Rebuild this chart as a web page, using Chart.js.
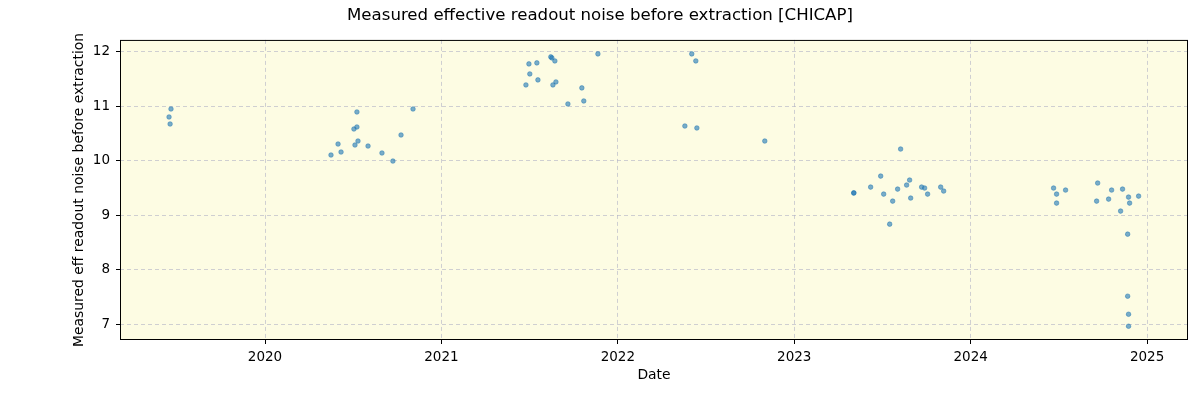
<!DOCTYPE html>
<html>
<head>
<meta charset="utf-8">
<script src="https://cdn.jsdelivr.net/npm/chart.js@4/dist/chart.umd.min.js"></script>
<style>
  html, body { margin: 0; padding: 0; background: #ffffff; }
  #wrap { width: 1200px; height: 400px; }
</style>
</head>
<body>
<div id="wrap"><canvas id="chart"></canvas></div>
<script>
// measurement dates as decimal years
const dates = [
  2019.467, 2019.456, 2019.462,
  2020.521, 2020.504, 2020.521, 2020.527, 2020.510, 2020.414, 2020.431, 2020.374,
  2020.584, 2020.663, 2020.725, 2020.771, 2020.839,
  2021.620, 2021.626, 2021.643, 2021.496, 2021.541, 2021.887, 2021.501, 2021.547,
  2021.479, 2021.632, 2021.649, 2021.796, 2021.807, 2021.717,
  2022.419, 2022.442, 2022.380, 2022.448, 2022.833,
  2023.337, 2023.338, 2023.603, 2023.490, 2023.433, 2023.507, 2023.558, 2023.541,
  2023.586, 2023.637, 2023.654, 2023.660, 2023.722, 2023.739, 2023.756, 2023.830, 2023.847,
  2024.470, 2024.487, 2024.487, 2024.538, 2024.720, 2024.714, 2024.799, 2024.782,
  2024.861, 2024.850, 2024.895, 2024.901, 2024.952, 2024.890, 2024.890, 2024.895, 2024.895
];
// effective readout noise values
const noise = [
  10.951, 10.804, 10.675,
  10.896, 10.583, 10.620, 10.362, 10.289, 10.307, 10.160, 10.105,
  10.270, 10.142, 9.994, 10.473, 10.951,
  11.908, 11.890, 11.834, 11.779, 11.798, 11.963, 11.595, 11.485,
  11.393, 11.393, 11.448, 11.338, 11.098, 11.043,
  11.963, 11.834, 10.638, 10.602, 10.362,
  9.406, 9.410, 10.215, 9.718, 9.516, 9.387, 9.258, 8.835,
  9.479, 9.553, 9.645, 9.314, 9.516, 9.498, 9.387, 9.516, 9.443,
  9.498, 9.387, 9.222, 9.461, 9.590, 9.258, 9.461, 9.295,
  9.479, 9.075, 9.332, 9.222, 9.350, 8.651, 7.511, 7.179, 6.959
];
const xTicks = [2020, 2021, 2022, 2023, 2024, 2025];
const yTicks = [7, 8, 9, 10, 11, 12];

const points = dates.map((d, i) => ({ x: d, y: noise[i] }));

const FONT = 'DejaVu Sans';

// plot background and black frame, like the matplotlib axes
const frame = {
  id: 'frame',
  beforeDraw(chart) {
    const a = chart.chartArea, ctx = chart.ctx;
    ctx.save();
    ctx.fillStyle = '#fdfce3';
    ctx.fillRect(a.left, a.top, a.right - a.left, a.bottom - a.top);
    ctx.restore();
  },
  afterDraw(chart) {
    const a = chart.chartArea, ctx = chart.ctx;
    ctx.save();
    ctx.strokeStyle = '#000';
    ctx.lineWidth = 1;
    ctx.strokeRect(a.left + 0.5, a.top + 0.5, a.right - a.left - 1, a.bottom - a.top - 1);
    ctx.restore();
  }
};

new Chart(document.getElementById('chart'), {
  type: 'scatter',
  data: {
    datasets: [{
      data: points,
      backgroundColor: 'rgba(31,119,180,0.6)',
      borderColor: 'rgba(31,119,180,0.6)',
      borderWidth: 0.8,
      pointRadius: 2.3
    }]
  },
  options: {
    responsive: true,
    maintainAspectRatio: false,
    animation: false,
    layout: { padding: { left: 12, right: 12, top: 0, bottom: 0 } },
    plugins: {
      legend: { display: false },
      tooltip: { enabled: false },
      title: {
        display: true,
        text: 'Measured effective readout noise before extraction [CHICAP]',
        color: '#000',
        font: { family: FONT, size: 16.6, weight: 'normal' },
        padding: { top: 6, bottom: 14 }
      }
    },
    scales: {
      x: {
        type: 'linear',
        min: 2019.178,
        max: 2025.232,
        afterFit(s) { s.height = 60; },
        afterBuildTicks(s) { s.ticks = xTicks.map(v => ({ value: v })); },
        ticks: {
          color: '#000',
          font: { family: FONT, size: 13.5 },
          padding: 5,
          maxRotation: 0,
          callback: v => String(v)
        },
        grid: {
          color: 'rgba(176,176,196,0.6)',
          lineWidth: 1,
          tickColor: '#000',
          tickLength: 4,
          tickBorderDash: []
        },
        border: { display: false, dash: [4, 3] },
        title: {
          display: true,
          text: 'Date',
          color: '#000',
          font: { family: FONT, size: 13.9 },
          padding: { top: 0, bottom: 16 }
        }
      },
      y: {
        min: 6.706,
        max: 12.22,
        afterFit(s) { s.width = 108; },
        afterBuildTicks(s) { s.ticks = yTicks.map(v => ({ value: v })); },
        ticks: {
          color: '#000',
          font: { family: FONT, size: 13.5 },
          padding: 6,
          callback: v => String(v)
        },
        grid: {
          color: 'rgba(176,176,196,0.6)',
          lineWidth: 1,
          tickColor: '#000',
          tickLength: 4,
          tickBorderDash: []
        },
        border: { display: false, dash: [4, 3] },
        title: {
          display: true,
          text: 'Measured eff readout noise before extraction',
          color: '#000',
          font: { family: FONT, size: 13.9 },
          padding: { top: 59, bottom: 0 }
        }
      }
    }
  },
  plugins: [frame]
});
</script>
</body>
</html>
